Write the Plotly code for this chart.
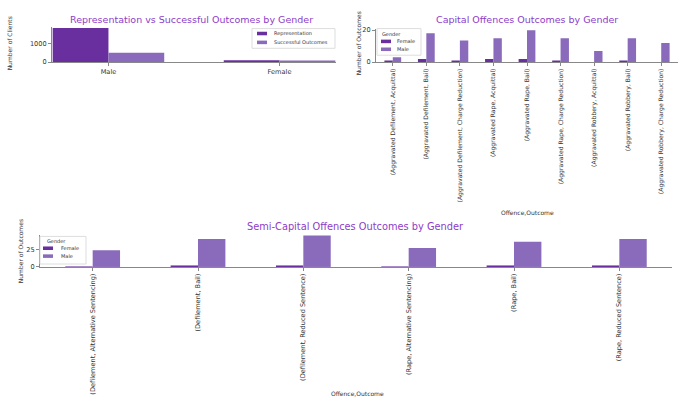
import plotly.graph_objects as go

# Representation vs successful outcomes
genders = ["Male", "Female"]
representation = [1830, 100]
successful = [500, 40]

# Capital offences
capital_labels = [
    "(Aggravated Defilement, Acquittal)",
    "(Aggravated Defilement, Bail)",
    "(Aggravated Defilement, Charge Reduction)",
    "(Aggravated Rape, Acquittal)",
    "(Aggravated Rape, Bail)",
    "(Aggravated Rape, Charge Reduction)",
    "(Aggravated Robbery, Acquittal)",
    "(Aggravated Robbery, Bail)",
    "(Aggravated Robbery, Charge Reduction)",
]
capital_female = [1, 2, 1, 2, 2, 1, 0, 1, 0]
capital_male = [3, 18, 13.5, 15, 20, 15, 7, 15, 12]

# Semi-capital offences
semi_labels = [
    "(Defilement, Alternative Sentencing)",
    "(Defilement, Bail)",
    "(Defilement, Reduced Sentence)",
    "(Rape, Alternative Sentencing)",
    "(Rape, Bail)",
    "(Rape, Reduced Sentence)",
]
semi_female = [0.5, 2, 1, 0.5, 1, 1]
semi_male = [24, 40, 46, 27, 36, 40]

DARK = "#6a2f9f"
LIGHT = "#8a6abb"
TITLE = "#8d3cc8"
FONT = "DejaVu Sans"
W, H = 680, 399


def px(x):
    return x / W


def py(y):
    return 1 - y / H


def pair(fig, cats, left, right, names, w, xa, ya):
    """Two side-by-side bar series sharing one category axis."""
    fig.add_trace(go.Bar(x=cats, y=left, name=names[0], marker_color=DARK,
                         width=w, offset=-w, xaxis=xa, yaxis=ya))
    fig.add_trace(go.Bar(x=cats, y=right, name=names[1], marker_color=LIGHT,
                         width=w, offset=0, xaxis=xa, yaxis=ya))


fig = go.Figure()
pair(fig, genders, representation, successful,
     ("Representation", "Successful Outcomes"), 0.326, "x", "y")
pair(fig, capital_labels, capital_female, capital_male,
     ("Female", "Male"), 0.25, "x2", "y2")
pair(fig, semi_labels, semi_female, semi_male,
     ("Female", "Male"), 0.26, "x3", "y3")

fig.update_traces(marker_line_width=0, showlegend=False)


def axis(size=6.6, **kw):
    d = dict(showline=True, linecolor="#888888", linewidth=1,
             showgrid=False, zeroline=False, ticks="outside",
             ticklen=3, tickcolor="#888888",
             tickfont=dict(family=FONT, size=size, color="#333333"))
    d.update(kw)
    return d


fig.update_layout(
    width=W, height=H,
    margin=dict(l=0, r=0, t=0, b=0),
    paper_bgcolor="white", plot_bgcolor="white",
    barmode="group",
    font=dict(family=FONT, size=6, color="#333333"),
    xaxis=axis(domain=[px(52), px(336)], anchor="y", range=[-0.33, 1.33]),
    yaxis=axis(domain=[py(61), py(25)], anchor="x",
               range=[0, 1900], tickvals=[0, 1000]),
    xaxis2=axis(size=6.1, domain=[px(376), px(678)], anchor="y2",
                range=[-0.5, 8.5], tickangle=-90),
    yaxis2=axis(domain=[py(61), py(27)], anchor="x2",
                range=[0, 21], tickvals=[0, 20]),
    xaxis3=axis(domain=[px(40), px(672)], anchor="y3",
                range=[-0.5, 5.5], tickangle=-90),
    yaxis3=axis(domain=[py(269), py(237)], anchor="x3",
                range=[0, 45], tickvals=[0, 25]),
)

shapes = []
annotations = [
    dict(text="Representation vs Successful Outcomes by Gender",
         x=px(191), y=py(18), font=dict(size=9.5, color=TITLE)),
    dict(text="Capital Offences Outcomes by Gender",
         x=px(527), y=py(18), font=dict(size=9.5, color=TITLE)),
    dict(text="Semi-Capital Offences Outcomes by Gender",
         x=px(355), y=py(228), font=dict(size=9.8, color=TITLE)),
    dict(text="Number of Clients", x=px(9), y=py(42), textangle=-90,
         font=dict(size=6)),
    dict(text="Number of Outcomes", x=px(358), y=py(42), textangle=-90,
         font=dict(size=6)),
    dict(text="Number of Outcomes", x=px(20), y=py(253), textangle=-90,
         font=dict(size=6)),
    dict(text="Offence,Outcome", x=px(527), y=py(214), font=dict(size=6)),
    dict(text="Offence,Outcome", x=px(357), y=py(397), font=dict(size=6)),
]


def legend_box(x0, y0, x1, y1, title, items, patch_x, text_x, rows_y, title_xy=None):
    """Compact legend drawn with shapes and text."""
    shapes.append(dict(type="rect", xref="paper", yref="paper",
                       x0=px(x0), x1=px(x1), y0=py(y1), y1=py(y0),
                       line=dict(color="#dddddd", width=1),
                       fillcolor="rgba(255,255,255,0.85)", layer="above"))
    if title:
        annotations.append(dict(text=title, x=px(title_xy[0]), y=py(title_xy[1]),
                                font=dict(size=5)))
    for (label, color), ry in zip(items, rows_y):
        shapes.append(dict(type="rect", xref="paper", yref="paper",
                           x0=px(patch_x), x1=px(patch_x + 10),
                           y0=py(ry + 1.8), y1=py(ry - 1.8),
                           line=dict(width=0), fillcolor=color, layer="above"))
        annotations.append(dict(text=label, x=px(text_x), y=py(ry),
                                xanchor="left", font=dict(size=5)))


legend_box(252, 27, 335, 47, None,
           [("Representation", DARK), ("Successful Outcomes", LIGHT)],
           257, 272, [32, 41])
legend_box(377, 27, 421, 54, "Gender",
           [("Female", DARK), ("Male", LIGHT)],
           381, 395, [40, 48], title_xy=(392, 32))
legend_box(40, 238, 86, 266, "Gender",
           [("Female", DARK), ("Male", LIGHT)],
           43, 59, [250, 258], title_xy=(57, 243))

for a in annotations:
    a.setdefault("xanchor", "center")
    a.update(xref="paper", yref="paper", showarrow=False, yanchor="middle")
    a["font"]["family"] = FONT
    a["font"].setdefault("color", "#333333")
fig.update_layout(annotations=annotations, shapes=shapes)

fig.write_html("out.html")
